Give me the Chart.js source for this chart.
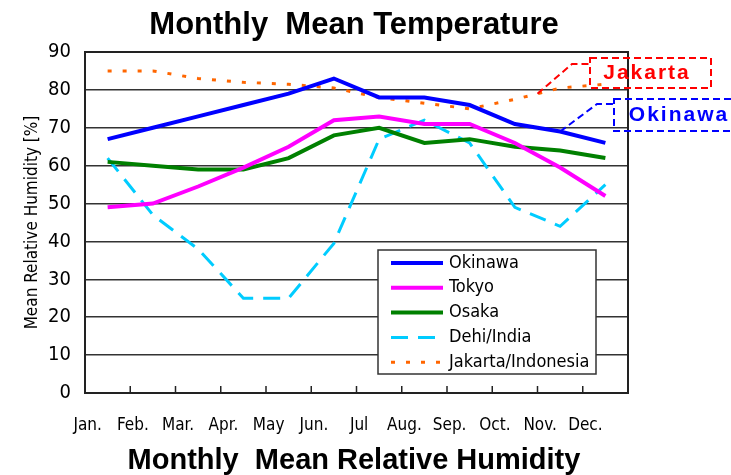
<!DOCTYPE html>
<html>
<head>
<meta charset="utf-8">
<script src="https://cdn.jsdelivr.net/npm/chart.js@4.4.1/dist/chart.umd.min.js"></script>
<style>
  html, body { margin: 0; padding: 0; background: #fff; }
  #wrap { width: 731px; height: 475px; }
</style>
</head>
<body>
<div id="wrap"><canvas id="humidity"></canvas></div>
<script>
const months = ['Jan.', 'Feb.', 'Mar.', 'Apr.', 'May', 'Jun.', 'Jul', 'Aug.', 'Sep.', 'Oct.', 'Nov.', 'Dec.'];
const okinawa = [67, 70, 73, 76, 79, 83, 78, 78, 76, 71, 69, 66];
const tokyo = [49, 50, 54.5, 59.5, 65, 72, 73, 71, 71, 66, 59.5, 52];
const osaka = [61, 60, 59, 59, 62, 68, 70, 66, 67, 65, 64, 62];
const delhi = [62, 47, 38, 25, 25, 39.5, 67, 72, 66, 49, 44, 55];
const jakarta = [85, 85, 83, 82, 81.5, 80.5, 78, 76.5, 75, 77.5, 80.5, 81.5];
const yTicks = [0, 10, 20, 30, 40, 50, 60, 70, 80, 90];

const narrow = '"Liberation Sans Narrow", "DejaVu Sans Condensed", sans-serif';
const bold = '"Liberation Sans", Arial, sans-serif';

// frame round the plot area plus the small inner ticks between months
const framePlugin = {
    id: 'frame',
    beforeDatasetsDraw(chart) {
        const {ctx, chartArea: a, scales: {x}} = chart;
        ctx.save();
        ctx.strokeStyle = '#222';
        ctx.lineWidth = 2;
        ctx.strokeRect(a.left, a.top, a.right - a.left, a.bottom - a.top);
        ctx.lineWidth = 1.5;
        for (let i = 1; i < months.length; i++) {
            const px = (x.getPixelForValue(i - 1) + x.getPixelForValue(i)) / 2;
            ctx.beginPath();
            ctx.moveTo(px, a.bottom);
            ctx.lineTo(px, a.bottom - 7);
            ctx.stroke();
        }
        ctx.restore();
    }
};

// legend box inside the plot and the two callouts
const legendPlugin = {
    id: 'boxLegend',
    afterDatasetsDraw(chart) {
        const {ctx, scales: {x, y}} = chart;
        ctx.save();
        const bx = 378, by = 250, bw = 218, bh = 124;
        ctx.fillStyle = '#fff';
        ctx.fillRect(bx, by, bw, bh);
        ctx.strokeStyle = '#333';
        ctx.lineWidth = 1.5;
        ctx.strokeRect(bx, by, bw, bh);
        ctx.font = '18px ' + narrow;
        ctx.textBaseline = 'middle';
        chart.data.datasets.forEach((ds, i) => {
            const ry = by + 13 + i * 24.8;
            ctx.strokeStyle = ds.borderColor;
            ctx.lineWidth = ds.borderWidth;
            ctx.setLineDash(ds.borderDash || []);
            ctx.beginPath();
            ctx.moveTo(391, ry);
            ctx.lineTo(443, ry);
            ctx.stroke();
            ctx.setLineDash([]);
            ctx.fillStyle = '#000';
            ctx.fillText(ds.label, 449, ry);
        });

        // callouts
        ctx.lineWidth = 2;
        ctx.setLineDash([7, 4]);
        ctx.font = 'bold 21px ' + bold;
        ctx.letterSpacing = '2px';
        ctx.textAlign = 'center';

        const jx = (x.getPixelForValue(9) + x.getPixelForValue(10)) / 2;
        const jy = y.getPixelForValue((jakarta[9] + jakarta[10]) / 2);
        ctx.strokeStyle = '#ff0000';
        ctx.beginPath();
        ctx.moveTo(jx, jy);
        ctx.lineTo(572, 64);
        ctx.lineTo(590, 64);
        ctx.stroke();
        ctx.strokeRect(590, 58, 121, 30);
        ctx.fillStyle = '#ff0000';
        ctx.fillText('Jakarta', 647, 73);

        const ox = x.getPixelForValue(10);
        const oy = y.getPixelForValue(okinawa[10]);
        ctx.strokeStyle = '#0000ff';
        ctx.beginPath();
        ctx.moveTo(ox, oy);
        ctx.lineTo(597, 104);
        ctx.lineTo(614, 104);
        ctx.stroke();
        ctx.strokeRect(614, 99, 130, 32);
        ctx.fillStyle = '#0000ff';
        ctx.fillText('Okinawa', 679, 115);
        ctx.restore();
    }
};

const ctx = document.getElementById('humidity').getContext('2d');
new Chart(ctx, {
    type: 'line',
    data: {
        labels: months,
        datasets: [
            {label: 'Okinawa', data: okinawa, borderColor: '#0000ff', borderWidth: 4},
            {label: 'Tokyo', data: tokyo, borderColor: '#ff00ff', borderWidth: 4},
            {label: 'Osaka', data: osaka, borderColor: '#008000', borderWidth: 4},
            {label: 'Dehi/India', data: delhi, borderColor: '#00ccff', borderWidth: 3, borderDash: [17, 10]},
            {label: 'Jakarta/Indonesia', data: jakarta, borderColor: '#ff6600', borderWidth: 3, borderDash: [4, 11]}
        ]
    },
    options: {
        responsive: true,
        maintainAspectRatio: false,
        animation: false,
        layout: {padding: {left: 0, right: 23, top: 0, bottom: 0}},
        elements: {
            point: {radius: 0},
            line: {tension: 0, borderCapStyle: 'butt'}
        },
        plugins: {
            legend: {display: false},
            tooltip: {enabled: false},
            title: {
                display: true,
                text: 'Monthly  Mean Temperature',
                color: '#000',
                font: {family: bold, size: 31, weight: 'bold', lineHeight: 1.2},
                padding: {top: 7, bottom: 7.8}
            },
            subtitle: {
                display: true,
                position: 'bottom',
                text: 'Monthly  Mean Relative Humidity',
                color: '#000',
                font: {family: bold, size: 29, weight: 'bold', lineHeight: 1.0},
                padding: {top: 0, bottom: 0}
            }
        },
        scales: {
            x: {
                offset: true,
                grid: {display: false},
                border: {display: false},
                ticks: {
                    color: '#000',
                    font: {family: narrow, size: 17},
                    padding: 14,
                    labelOffset: -20,
                    maxRotation: 0,
                    autoSkip: false
                },
                afterFit(scale) { scale.height = 53; }
            },
            y: {
                min: 0,
                max: 90,
                afterBuildTicks(scale) { scale.ticks = yTicks.map(v => ({value: v})); },
                grid: {color: '#333', lineWidth: 1.5, drawTicks: false},
                border: {display: false},
                ticks: {
                    color: '#000',
                    font: {family: narrow, size: 20},
                    padding: 14
                },
                title: {
                    display: true,
                    text: 'Mean Relative Humidity [%]',
                    color: '#000',
                    font: {family: narrow, size: 17},
                    padding: {top: 22, bottom: 0}
                },
                afterFit(scale) { scale.width = 85; }
            },
            // empty right-hand space where the callouts sit
            y2: {
                position: 'right',
                min: 0,
                max: 90,
                grid: {display: false},
                border: {display: false},
                ticks: {display: false},
                afterFit(scale) { scale.width = 80; }
            }
        }
    },
    plugins: [framePlugin, legendPlugin]
});
</script>
</body>
</html>
